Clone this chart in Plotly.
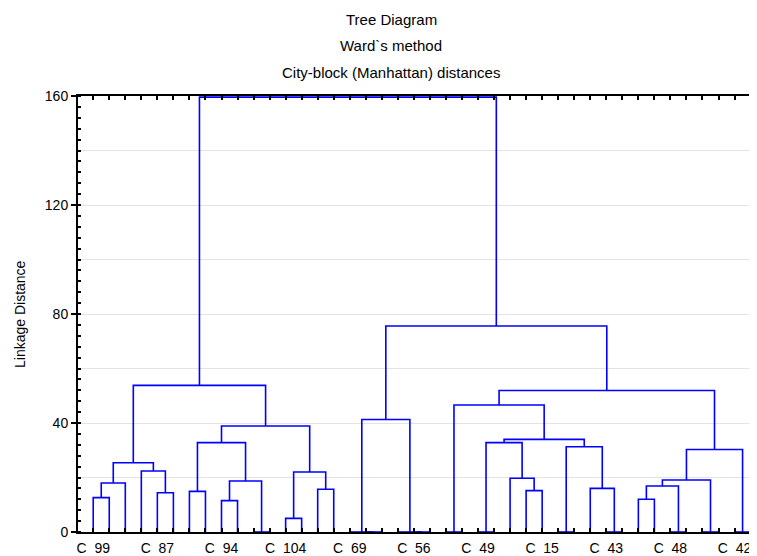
import plotly.graph_objects as go

# ---- data ----
n_leaves = 42
S = "\u00a0\u00a0"
tick_labels = ["C" + S + "99", "", "", "", "C" + S + "87", "", "", "", "C" + S + "94", "", "", "",
               "C" + S + "104", "", "", "", "C" + S + "69", "", "", "", "C" + S + "56", "", "", "",
               "C" + S + "49", "", "", "", "C" + S + "15", "", "", "", "C" + S + "43", "", "", "",
               "C" + S + "48", "", "", "", "C" + S + "42", ""]
# node ids: leaves 0..41 (display order), merged nodes 42.. in list order
merge_left = [10, 17, 16, 20, 19, 22, 24, 29, 32, 36, 38, 40,
              0, 54, 4, 3, 55, 6, 8, 60, 59, 12, 14, 63, 62, 58,
              44, 27, 26, 48, 31, 49, 71, 47, 34, 76, 77, 78, 75, 68, 67]
merge_right = [11, 18, 43, 21, 45, 23, 25, 30, 33, 37, 39, 41,
               1, 2, 5, 56, 57, 7, 9, 42, 61, 13, 15, 64, 65, 66,
               46, 28, 69, 70, 50, 72, 73, 74, 35, 51, 52, 53, 79, 80, 81]
merge_height = [0, 0, 0, 0, 0, 0, 0, 0, 0, 0, 0, 0,
                12.6, 18.0, 14.4, 22.4, 25.4, 14.9, 11.5, 18.7, 32.8, 5.0, 15.7, 22.0, 38.9, 53.8,
                41.3, 15.2, 19.7, 32.8, 16.0, 31.3, 34.0, 46.6, 12.0, 16.9, 19.1, 30.3, 51.9, 75.6, 159.6]

# ---- build dendrogram segments ----
node_x = [i + 1 for i in range(n_leaves)]
node_h = [0.0] * n_leaves
xs, ys = [], []
for l, r, h in zip(merge_left, merge_right, merge_height):
    xl, xr = node_x[l], node_x[r]
    xs += [xl, xl, xr, xr, None]
    ys += [node_h[l], h, h, node_h[r], None]
    node_x.append((xl + xr) / 2)
    node_h.append(h)

fig = go.Figure()
# helper trace for the extra gridlines (drawn first, below)
fig.add_trace(go.Scatter(x=[None], y=[None], yaxis="y2", showlegend=False))
fig.add_trace(go.Scatter(x=xs, y=ys, mode="lines",
                         line=dict(color="#0000FF", width=1.6),
                         hoverinfo="skip", showlegend=False))

# page body has an 8px margin; compensate so the plot lands on page pixels
OFF = 8
W, H = 757 - OFF, 556 - OFF
L, T, B = 78 - OFF, 96 - OFF, (OFF + H) - 532

font_family = "Arial, Liberation Sans, sans-serif"
fig.update_layout(
    width=W, height=H,
    margin=dict(l=L, r=0, t=T, b=B, pad=0),
    paper_bgcolor="white", plot_bgcolor="white",
    font=dict(family=font_family, size=14, color="black"),
    xaxis=dict(range=[0.05, 42.4], tickmode="array",
               tickvals=list(range(1, n_leaves + 1)), ticktext=tick_labels,
               ticks="inside", ticklen=4, tickwidth=1.5, tickcolor="black",
               showline=True, linecolor="black", linewidth=2, mirror="ticks",
               showgrid=False, zeroline=False, tickangle=0,
               ticklabelstandoff=2,
               tickfont=dict(size=14)),
    yaxis=dict(range=[0, 160], tickmode="array", tickvals=[0, 40, 80, 120, 160],
               ticks="outside", ticklen=5, tickwidth=1.5, tickcolor="black",
               showline=True, linecolor="black", linewidth=2, mirror=False,
               showgrid=True, gridcolor="#e3e3e3", gridwidth=1, zeroline=False,
               minor=dict(dtick=4, ticks="inside", ticklen=3, tickwidth=1.5,
                          tickcolor="black", showgrid=False),
               tickfont=dict(size=14)),
    yaxis2=dict(range=[0, 160], overlaying="y", tickmode="array",
                tickvals=[20, 60, 100, 140], showticklabels=False, ticks="",
                showgrid=True, gridcolor="#e3e3e3", gridwidth=1,
                zeroline=False, showline=False, side="left"),
)

pw = 757 - 78
ph = 532 - 96
def px(xp):
    return (xp - 78) / pw
def py(yp):
    return (532 - yp) / ph

titles = ["Tree Diagram", "Ward`s method", "City-block (Manhattan) distances"]
title_y = [20, 46, 72]
for t, yy in zip(titles, title_y):
    fig.add_annotation(text=t, xref="paper", yref="paper", x=px(391), y=py(yy),
                       xanchor="center", yanchor="middle", showarrow=False,
                       font=dict(size=15, family=font_family))
fig.add_annotation(text="Linkage Distance", xref="paper", yref="paper",
                   x=px(20), y=py(314), textangle=-90, xanchor="center",
                   yanchor="middle", showarrow=False,
                   font=dict(size=14, family=font_family))

fig.write_html("out.html")
